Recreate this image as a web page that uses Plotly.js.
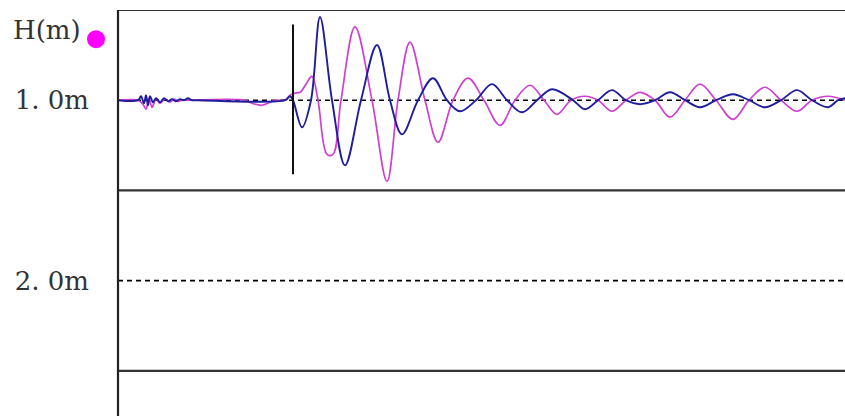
<!DOCTYPE html>
<html>
<head>
<meta charset="utf-8">
<script src="https://cdn.plot.ly/plotly-3.0.1.min.js"></script>
<style>
  html, body { margin: 0; padding: 0; background: #fff; }
  #chart { width: 845px; height: 416px; }
</style>
</head>
<body>
<div id="chart"></div>
<script>
// Time samples (arbitrary units along the trace) and amplitudes (m, positive = upward)
const blueT = [0, 20, 23, 26, 28, 30, 32, 35, 38, 42, 46, 50, 54, 58, 62, 66, 70, 74, 80, 167, 172, 175, 184, 193, 202, 214, 227, 243, 259, 272, 284, 300, 315, 329, 342, 358, 374, 389, 404, 419, 434, 455, 467, 480, 494, 508, 522, 537, 552, 567, 582, 598, 615, 631, 647, 663, 679, 694, 710, 720, 727];
const blueA = [0, 0, 0.022, -0.017, 0.028, -0.028, 0.022, -0.011, 0.011, -0.011, 0.011, -0.006, 0.006, -0.006, 0.006, 0, 0.011, 0, 0, 0, 0.022, 0, -0.150, 0, 0.461, 0, -0.361, 0, 0.306, 0, -0.189, 0, 0.122, 0, -0.061, 0, 0.089, 0, -0.067, 0, 0.061, 0, -0.050, 0, 0.056, 0, -0.022, 0, 0.044, 0, -0.039, 0, 0.033, 0, -0.039, 0, 0.056, 0, -0.039, 0, 0.011];

const magT = [0, 20, 25, 28, 31, 34, 38, 42, 47, 52, 56, 60, 64, 70, 127, 134, 144, 152, 157, 167, 172, 177, 182, 188, 194, 200, 209, 215, 223, 237, 254, 269, 280, 292, 307, 320, 335, 350, 366, 382, 397, 412, 426, 439, 453, 467, 480, 494, 508, 522, 537, 552, 567, 582, 598, 615, 631, 647, 663, 679, 694, 710, 727];
const magA = [0, 0, -0.022, -0.050, 0.011, -0.039, 0.006, -0.017, 0.006, -0.011, 0.006, -0.006, 0, 0, 0, -0.017, -0.028, -0.011, 0, 0, 0.028, 0.039, 0.044, 0.089, 0.133, 0, -0.300, -0.300, 0, 0.406, 0, -0.450, 0, 0.322, 0, -0.233, 0, 0.122, 0, -0.139, 0, 0.083, 0, -0.078, 0, 0.022, 0, -0.061, 0, 0.044, 0, -0.094, 0, 0.089, 0, -0.106, 0, 0.072, 0, -0.061, 0, 0.022, 0];

const traceDepth = 1.0;           // depth (m) of the recorded trace baseline
const depthLevels = [1.0, 2.0];   // dashed reference depths
const depthLabels = ['1. 0m', '2. 0m'];
const panelBounds = [0.5, 1.5, 2.5];
const markerT = [175, 175];       // vertical time marker
const markerH = [0.58, 1.41];

const toDepth = a => a.map(v => +(traceDepth - v).toFixed(4));

const traces = [
  { x: magT, y: toDepth(magA), type: 'scatter', mode: 'lines',
    line: { color: '#d040d0', width: 1.7, shape: 'spline', smoothing: 1 }, hoverinfo: 'skip' },
  { x: blueT, y: toDepth(blueA), type: 'scatter', mode: 'lines',
    line: { color: '#1e1e9c', width: 1.9, shape: 'spline', smoothing: 1 }, hoverinfo: 'skip' },
  { x: markerT, y: markerH, type: 'scatter', mode: 'lines',
    line: { color: '#111', width: 2 }, hoverinfo: 'skip' }
];

const shapes = [];
panelBounds.forEach(h => shapes.push({
  type: 'line', xref: 'paper', yref: 'y', x0: 0, x1: 1, y0: h, y1: h,
  line: { color: '#333', width: 2.2 }, layer: 'above'
}));
depthLevels.forEach(h => shapes.push({
  type: 'line', xref: 'paper', yref: 'y', x0: 0, x1: 1, y0: h, y1: h,
  line: { color: '#000', width: 1.6, dash: '5px,4px' }, layer: 'below'
}));
shapes.push({
  type: 'line', xref: 'paper', yref: 'paper', x0: 0, x1: 0, y0: 0, y1: 1,
  line: { color: '#222', width: 2.2 }, layer: 'above'
});
// magenta indicator dot next to the H(m) label
shapes.push({
  type: 'circle', xref: 'paper', yref: 'paper', xsizemode: 'pixel', ysizemode: 'pixel',
  xanchor: 0, yanchor: 0.928, x0: -31, x1: -13, y0: -9, y1: 9,
  fillcolor: '#ff00ff', line: { width: 0 }
});

const layout = {
  width: 845, height: 416,
  margin: { l: 118, r: 0, t: 10, b: 0, pad: 0 },
  paper_bgcolor: '#fff', plot_bgcolor: '#fff',
  showlegend: false,
  xaxis: { range: [0, 727], visible: false, fixedrange: true },
  yaxis: {
    range: [2.75, 0.5], tickvals: depthLevels, ticktext: depthLabels,
    ticks: '', showgrid: false, zeroline: false, showline: false,
    ticklabelstandoff: 28,
    tickfont: { family: 'DejaVu Serif', size: 26, color: '#333' }, fixedrange: true
  },
  shapes: shapes,
  annotations: [{
    text: 'H(m)', xref: 'paper', yref: 'paper', x: -107 / 727, y: 0.951,
    xanchor: 'left', yanchor: 'middle', showarrow: false,
    font: { family: 'DejaVu Serif', size: 26, color: '#333' }
  }]
};

Plotly.newPlot('chart', traces, layout, { staticPlot: true, displayModeBar: false });
</script>
</body>
</html>
